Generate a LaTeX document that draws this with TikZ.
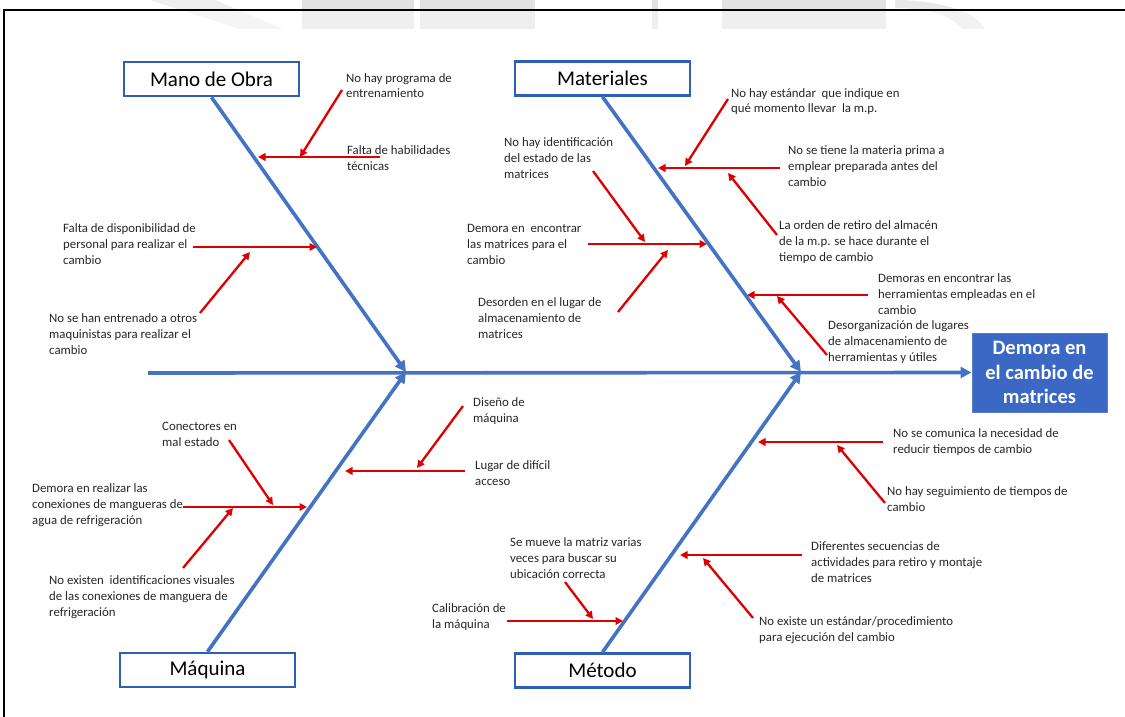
\documentclass[tikz,border=0pt]{standalone}
\usepackage{fontspec}
\setmainfont{Carlito}
\usetikzlibrary{arrows.meta}

\definecolor{bone}{RGB}{68,114,196}
\definecolor{catframe}{RGB}{46,95,181}
\definecolor{effectfill}{RGB}{58,104,196}
\definecolor{causered}{RGB}{222,0,0}
\definecolor{txt}{RGB}{38,38,38}
\definecolor{wmgray}{RGB}{226,226,226}

% cause labels are placed by the baseline of their last line
\tikzset{
  bonearrow/.style={draw=bone, line width=3.6pt, -{Triangle[length=11pt,width=11pt]}},
  causearrow/.style={draw=causered, line width=2.3pt, -{Triangle[length=7.5pt,width=7.5pt]}},
  catbox/.style={draw=catframe, line width=2.6pt, fill=white, minimum width=175pt,
    minimum height=34pt, inner sep=0pt, text=black, font=\fontsize{21}{24}\selectfont},
  effectbox/.style={draw=catframe!80!white, line width=1pt, fill=effectfill, text=white,
    minimum width=135pt, minimum height=79pt, inner sep=0pt, align=center,
    font=\bfseries\fontsize{20.5}{24.5}\selectfont},
  causetext/.style={anchor=base west, align=left, inner sep=0pt, text=txt,
    font=\fontsize{12.8}{16}\selectfont},
  wmshape/.style={fill=wmgray},
}

\begin{document}
\begin{tikzpicture}[x=1pt,y=-1pt]
\useasboundingbox (0,0) rectangle (1125,717);

% faint watermark band along the top
\fill[wmshape, opacity=0.6] (150,0) -- (215,0) -- (283,29) -- (240,29) -- cycle;
\fill[wmshape] (302,0) rectangle (414,29);
\fill[wmshape] (420,0) rectangle (535,29);
\fill[wmshape] (652,0) rectangle (658,29);
\fill[wmshape] (722,0) rectangle (886,29);
\fill[wmshape, opacity=0.8] (895,0) .. controls (935,0) and (975,10) .. (985,29) -- (962,29)
  .. controls (950,14) and (925,8) .. (895,8) -- cycle;
\fill[white, opacity=0.45] (0,11) rectangle (1125,29);

% frame lines
\draw[line width=2pt] (4,717) -- (4,10) -- (1125,10);

% head and category boxes
\node[effectbox] (effect) at (1039.5,372.5) {Demora en\\el cambio de\\matrices};
\node[catbox] (mo)  at (211.5,79)   {Mano de Obra};
\node[catbox] (mat) at (602.5,78.5) {Materiales};
\node[catbox] (maq) at (207.5,670)  {Máquina};
\node[catbox] (met) at (602.5,670.5){Método};

% spine and main bones
\coordinate (tail) at (148,373);
\coordinate (hubA) at (406,372);
\coordinate (hubB) at (801,372);
\draw[bonearrow] (tail) -- (effect.west);
\draw[bonearrow] (mo.south) -- (hubA);
\draw[bonearrow] (maq.north) -- (hubA);
\draw[bonearrow] (mat.south) -- (hubB);
\draw[bonearrow] (met.north) -- (hubB);

% ---------- Mano de Obra ----------
\node[causetext] (tmo1) at (346,98) {No hay programa de\\entrenamiento};
\node[causetext] (tmo2) at (347,170) {Falta de habilidades\\técnicas};
\node[causetext] (tmo3) at (63,264) {Falta de disponibilidad de\\personal para realizar el\\cambio};
\node[causetext] (tmo4) at (49,354) {No se han entrenado a otros\\maquinistas para realizar el\\cambio};
\coordinate (mo1s) at (342,90);  \coordinate (mo1e) at (300,157);
\coordinate (mo2s) at (380,157); \coordinate (mo2e) at (258,157);
\coordinate (mo3s) at (193,247); \coordinate (mo3e) at (317,247);
\coordinate (mo4s) at (200,313); \coordinate (mo4e) at (250,252);
\draw[causearrow] (mo2s) -- (mo2e);
\draw[causearrow] (mo1s) -- (mo1e);
\draw[causearrow] (mo3s) -- (mo3e);
\draw[causearrow] (mo4s) -- (mo4e);

% ---------- Materiales ----------
\node[causetext] (tma1) at (731,113) {No hay estándar\ \ que indique en\\qué momento llevar\ \ la m.p.};
\node[causetext] (tma2) at (788,186) {No se tiene la materia prima a\\emplear preparada antes del\\cambio};
\node[causetext] (tma3) at (779,261) {La orden de retiro del almacén\\de la m.p. se hace durante el\\tiempo de cambio};
\node[causetext] (tma4) at (878,314) {Demoras en encontrar las\\herramientas empleadas en el\\cambio};
\node[causetext] (tma5) at (828,361) {Desorganización de lugares\\de almacenamiento de\\herramientas y útiles};
\node[causetext] (tma6) at (504,178) {No hay identificación\\del estado de las\\matrices};
\node[causetext] (tma7) at (467,264) {Demora en\ \ encontrar\\las matrices para el\\cambio};
\node[causetext] (tma8) at (478,338) {Desorden en el lugar de\\almacenamiento de\\matrices};
\coordinate (ma1s) at (728,99);  \coordinate (ma1e) at (685,166);
\coordinate (ma2s) at (780,168); \coordinate (ma2e) at (658,168);
\coordinate (ma3s) at (777,235); \coordinate (ma3e) at (728,173);
\coordinate (ma4s) at (868,295); \coordinate (ma4e) at (747,295);
\coordinate (ma5s) at (827,355); \coordinate (ma5e) at (777,296);
\coordinate (ma6s) at (593,171); \coordinate (ma6e) at (645,242);
\coordinate (ma7s) at (588,244); \coordinate (ma7e) at (707,244);
\coordinate (ma8s) at (618,312); \coordinate (ma8e) at (668,250);
\draw[causearrow] (ma2s) -- (ma2e);
\draw[causearrow] (ma1s) -- (ma1e);
\draw[causearrow] (ma3s) -- (ma3e);
\draw[causearrow] (ma4s) -- (ma4e);
\draw[causearrow] (ma5s) -- (ma5e);
\draw[causearrow] (ma7s) -- (ma7e);
\draw[causearrow] (ma6s) -- (ma6e);
\draw[causearrow] (ma8s) -- (ma8e);

% ---------- Máquina ----------
\node[causetext] (tmq1) at (162,446) {Conectores en\\mal estado};
\node[causetext] (tmq2) at (32,524) {Demora en realizar las\\conexiones de mangueras de\\agua de refrigeración};
\node[causetext] (tmq3) at (49,616) {No existen\ \ identificaciones visuales\\de las conexiones de manguera de\\refrigeración};
\node[causetext] (tmq4) at (473,422) {Diseño de\\máquina};
\node[causetext] (tmq5) at (475,485) {Lugar de difícil\\acceso};
\coordinate (mq1s) at (229,440); \coordinate (mq1e) at (273,505);
\coordinate (mq2s) at (183,507); \coordinate (mq2e) at (307,507);
\coordinate (mq3s) at (183,568); \coordinate (mq3e) at (233,508);
\coordinate (mq4s) at (463,406); \coordinate (mq4e) at (417,468);
\coordinate (mq5s) at (465,471); \coordinate (mq5e) at (345,471);
\draw[causearrow] (mq2s) -- (mq2e);
\draw[causearrow] (mq1s) -- (mq1e);
\draw[causearrow] (mq3s) -- (mq3e);
\draw[causearrow] (mq5s) -- (mq5e);
\draw[causearrow] (mq4s) -- (mq4e);

% ---------- Método ----------
\node[causetext] (tme1) at (893,453) {No se comunica la necesidad de\\reducir tiempos de cambio};
\node[causetext] (tme2) at (887,511) {No hay seguimiento de tiempos de\\cambio};
\node[causetext] (tme3) at (811,582) {Diferentes secuencias de\\actividades para retiro y montaje\\de matrices};
\node[causetext] (tme4) at (759,641) {No existe un estándar/procedimiento\\para ejecución del cambio};
\node[causetext] (tme5) at (510,578) {Se mueve la matriz varias\\veces para buscar su\\ubicación correcta};
\node[causetext] (tme6) at (432,628) {Calibración de\\la máquina};
\coordinate (me1s) at (883,442); \coordinate (me1e) at (758,442);
\coordinate (me2s) at (885,503); \coordinate (me2e) at (837,445);
\coordinate (me3s) at (802,555); \coordinate (me3e) at (680,555);
\coordinate (me4s) at (753,618); \coordinate (me4e) at (703,558);
\coordinate (me5s) at (565,582); \coordinate (me5e) at (593,619);
\coordinate (me6s) at (507,621); \coordinate (me6e) at (623,621);
\draw[causearrow] (me1s) -- (me1e);
\draw[causearrow] (me2s) -- (me2e);
\draw[causearrow] (me3s) -- (me3e);
\draw[causearrow] (me4s) -- (me4e);
\draw[causearrow] (me6s) -- (me6e);
\draw[causearrow] (me5s) -- (me5e);
\end{tikzpicture}
\end{document}
